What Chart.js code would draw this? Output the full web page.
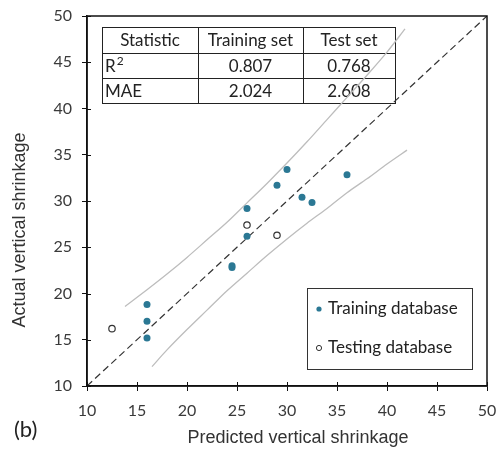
<!DOCTYPE html>
<html>
<head>
<meta charset="utf-8">
<script src="https://cdn.jsdelivr.net/npm/chart.js@4"></script>
<style>
    html, body { margin: 0; padding: 0; background: #fff; }
</style>
</head>
<body>
<canvas id="shrinkChart" width="497" height="452"></canvas>
<script>
// training points (predicted, actual)
const trainPred = [30.0, 29.0, 36.0, 31.5, 32.5, 26.0, 26.0, 24.5, 24.5, 16.0, 16.0, 16.0];
const trainAct  = [33.4, 31.7, 32.85, 30.4, 29.85, 29.2, 26.2, 22.8, 23.0, 18.8, 17.0, 15.2];
// testing points
const testPred = [12.5, 26.0, 29.0];
const testAct  = [16.2, 27.4, 26.3];
// 1:1 line
const idealX = [10, 50];
const idealY = [10, 50];
// prediction band
const upperX = [13.8, 16, 18, 20, 22, 24, 26, 28, 30, 32, 34, 36, 38, 40, 41.8];
const upperY = [18.6, 20.4, 22.1, 23.9, 25.8, 27.7, 29.8, 31.9, 34.1, 36.4, 38.8, 41.2, 43.6, 46.1, 48.6];
const lowerX = [16.5, 18, 20, 22, 24, 26, 28, 30, 32, 34, 36, 38, 40, 42];
const lowerY = [12.1, 13.9, 16.1, 18.2, 20.3, 22.2, 24.1, 25.9, 27.6, 29.2, 30.9, 32.4, 34.0, 35.5];
const axisTicks = [10, 15, 20, 25, 30, 35, 40, 45, 50];

// stats table
const tableHead = ['Statistic', 'Training set', 'Test set'];
const tableRows = [
    ['R', '0.807', '0.768'],
    ['MAE', '2.024', '2.608']
];
const legendLabels = ['Training database', 'Testing database'];

const toPts = (xs, ys) => xs.map((x, i) => ({ x: x, y: ys[i] }));

const teal = '#2b7894';
const labelFont = "Lato, 'Open Sans', sans-serif";

const extras = {
    id: 'extras',
    beforeDatasetsDraw(chart) {
        const ctx = chart.ctx;
        // table, the curves pass over it
        const left = 102, right = 395, top = 27, bottom = 103;
        const cols = [102, 198, 303, 395];
        const rowsY = [27, 53, 78, 103];
        ctx.save();
        ctx.strokeStyle = '#222';
        ctx.lineWidth = 1;
        ctx.strokeRect(left + 0.5, top + 0.5, right - left, bottom - top);
        ctx.beginPath();
        rowsY.slice(1, 3).forEach(y => { ctx.moveTo(left, y + 0.5); ctx.lineTo(right, y + 0.5); });
        cols.slice(1, 3).forEach(x => { ctx.moveTo(x + 0.5, top); ctx.lineTo(x + 0.5, bottom); });
        ctx.stroke();
        ctx.fillStyle = '#222';
        ctx.font = '17px ' + labelFont;
        ctx.textBaseline = 'middle';
        ctx.textAlign = 'center';
        tableHead.forEach((t, i) => ctx.fillText(t, (cols[i] + cols[i + 1]) / 2, (rowsY[0] + rowsY[1]) / 2 + 1));
        tableRows.forEach((row, r) => {
            const cy = (rowsY[r + 1] + rowsY[r + 2]) / 2 + 1;
            row.forEach((t, i) => {
                if (i === 0) {
                    ctx.textAlign = 'left';
                    ctx.fillText(t, cols[0] + 3, cy);
                    if (r === 0) {
                        // superscript 2 of R²
                        const w = ctx.measureText(t).width;
                        ctx.font = '12px ' + labelFont;
                        ctx.fillText('2', cols[0] + 3 + w + 1, cy - 5);
                        ctx.font = '17px ' + labelFont;
                    }
                } else {
                    ctx.textAlign = 'center';
                    ctx.fillText(t, (cols[i] + cols[i + 1]) / 2, cy);
                }
            });
        });
        ctx.restore();
    },
    afterDraw(chart) {
        const ctx = chart.ctx;
        const a = chart.chartArea;
        const xs = chart.scales.x, ys = chart.scales.y;
        ctx.save();
        // frame
        ctx.strokeStyle = '#111';
        ctx.lineWidth = 1.5;
        ctx.strokeRect(a.left, a.top, a.right - a.left, a.bottom - a.top);
        // inner half of the tick marks
        ctx.lineWidth = 1;
        ctx.beginPath();
        axisTicks.forEach(v => {
            const px = Math.round(xs.getPixelForValue(v)) + 0.5;
            ctx.moveTo(px, a.bottom);
            ctx.lineTo(px, a.bottom - 4);
            const py = Math.round(ys.getPixelForValue(v)) + 0.5;
            ctx.moveTo(a.left, py);
            ctx.lineTo(a.left + 4, py);
        });
        ctx.stroke();

        // legend box
        const lx = 307, ly = 288, lw = 165, lh = 81;
        ctx.fillStyle = '#fff';
        ctx.fillRect(lx, ly, lw, lh);
        ctx.strokeStyle = '#333';
        ctx.lineWidth = 1;
        ctx.strokeRect(lx + 0.5, ly + 0.5, lw, lh);
        ctx.font = '17px ' + labelFont;
        ctx.textAlign = 'left';
        ctx.textBaseline = 'middle';
        ctx.fillStyle = teal;
        ctx.beginPath();
        ctx.arc(319, 309, 2.6, 0, Math.PI * 2);
        ctx.fill();
        ctx.fillStyle = '#fff';
        ctx.strokeStyle = '#333';
        ctx.beginPath();
        ctx.arc(319, 348, 2.6, 0, Math.PI * 2);
        ctx.fill();
        ctx.stroke();
        ctx.fillStyle = '#222';
        ctx.fillText(legendLabels[0], 328, 309);
        ctx.fillText(legendLabels[1], 328, 348);

        // axis titles and panel label
        ctx.fillStyle = '#333';
        ctx.font = "18px 'Liberation Sans', Arial, sans-serif";
        ctx.textAlign = 'center';
        ctx.fillText('Predicted vertical shrinkage', 298, 438);
        ctx.save();
        ctx.translate(20, 230);
        ctx.rotate(-Math.PI / 2);
        ctx.fillText('Actual vertical shrinkage', 0, 0);
        ctx.restore();
        ctx.font = '22px ' + labelFont;
        ctx.fillStyle = '#222';
        ctx.textAlign = 'left';
        ctx.fillText('(b)', 14, 430);
        ctx.restore();
    }
};

const axisCommon = {
    type: 'linear',
    min: 10,
    max: 50,
    ticks: {
        stepSize: 5,
        color: '#3a3a3a',
        font: { family: labelFont, size: 16 },
    },
    grid: {
        drawOnChartArea: false,
        drawTicks: true,
        tickLength: 5,
        color: '#111'
    },
    border: { color: '#111', width: 1.5 }
};

new Chart(document.getElementById('shrinkChart'), {
    type: 'scatter',
    data: {
        datasets: [
            {
                label: legendLabels[0],
                data: toPts(trainPred, trainAct),
                backgroundColor: teal,
                borderColor: teal,
                pointRadius: 3.5,
                borderWidth: 0
            },
            {
                label: legendLabels[1],
                data: toPts(testPred, testAct),
                backgroundColor: '#fff',
                borderColor: '#333',
                pointRadius: 3.2,
                borderWidth: 1.2
            },
            {
                label: '1:1',
                data: toPts(idealX, idealY),
                showLine: true,
                pointRadius: 0,
                borderColor: '#333',
                borderWidth: 1.2,
                borderDash: [7, 4]
            },
            {
                label: 'upper',
                data: toPts(upperX, upperY),
                showLine: true,
                pointRadius: 0,
                borderColor: '#bdbdbd',
                borderWidth: 1.3,
                tension: 0.3
            },
            {
                label: 'lower',
                data: toPts(lowerX, lowerY),
                showLine: true,
                pointRadius: 0,
                borderColor: '#bdbdbd',
                borderWidth: 1.3,
                tension: 0.3
            }
        ]
    },
    options: {
        responsive: false,
        animation: false,
        devicePixelRatio: 1,
        layout: { padding: { top: 16, right: 10, bottom: 0, left: 0 } },
        plugins: {
            legend: { display: false },
            tooltip: { enabled: false }
        },
        scales: {
            x: Object.assign({}, axisCommon, {
                position: 'bottom',
                ticks: Object.assign({}, axisCommon.ticks, { padding: 10 }),
                afterFit: (s) => {
                    s.height = 66;
                    s.paddingLeft = 0;
                    s.paddingRight = 0;
                }
            }),
            y: Object.assign({}, axisCommon, {
                position: 'left',
                ticks: Object.assign({}, axisCommon.ticks, { padding: 10 }),
                afterFit: (s) => {
                    s.width = 87;
                    s.paddingTop = 0;
                    s.paddingBottom = 0;
                }
            })
        }
    },
    plugins: [extras]
});
</script>
</body>
</html>
